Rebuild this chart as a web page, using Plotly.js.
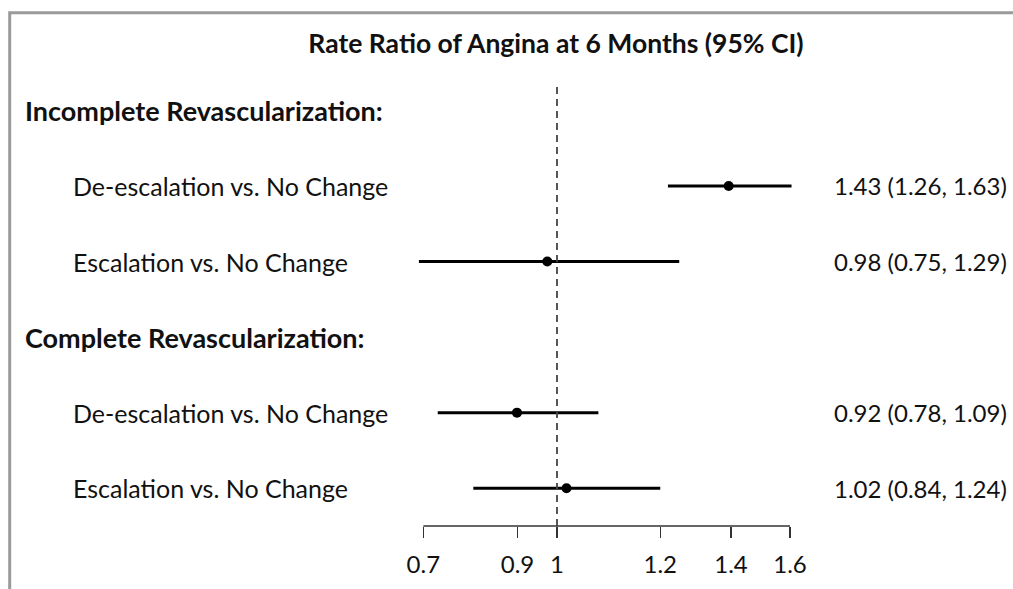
<!DOCTYPE html>
<html>
<head>
<meta charset="utf-8">
<script src="https://cdn.plot.ly/plotly-3.0.1.min.js"></script>
<style>
  html, body { margin: 0; padding: 0; background: #fff; }
  #chart { width: 1013px; height: 589px; }
</style>
</head>
<body>
<div id="chart"></div>
<script>
// ---- data ----
var groups = ["Incomplete Revascularization:", "Complete Revascularization:"];
var rowGroup = [0, 0, 1, 1];
var comparisons = ["De-escalation vs. No Change", "Escalation vs. No Change",
                   "De-escalation vs. No Change", "Escalation vs. No Change"];
var rateRatio = [1.43, 0.98, 0.92, 1.02];
var ciLow = [1.26, 0.75, 0.78, 0.84];
var ciHigh = [1.63, 1.29, 1.09, 1.24];
var tickVals = [0.757, 0.921, 1, 1.24, 1.437, 1.625];
var tickText = ["0.7", "0.9", "1", "1.2", "1.4", "1.6"];
var titleText = "Rate Ratio of Angina at 6 Months (95% CI)";

// ---- layout helpers ----
var W = 1013, H = 589;
var FONT = "Lato, 'Open Sans', sans-serif";
function headerRow(g) { return 1 + 3 * g; }
var rowY = [];
var cnt = [0, 0];
for (var i = 0; i < comparisons.length; i++) {
  var g = rowGroup[i];
  rowY.push(2 + 3 * g + cnt[g]);
  cnt[g]++;
}
var errPlus = rateRatio.map(function (v, i) { return ciHigh[i] - v; });
var errMinus = rateRatio.map(function (v, i) { return v - ciLow[i]; });

var trace = {
  type: "scatter",
  mode: "markers",
  x: rateRatio,
  y: rowY,
  marker: { color: "#000", size: 10 },
  error_x: { type: "data", symmetric: false, array: errPlus, arrayminus: errMinus,
             width: 0, thickness: 3, color: "#000" },
  hoverinfo: "skip",
  showlegend: false
};

var annotations = [];
groups.forEach(function (name, g) {
  annotations.push({ xref: "paper", yref: "y", x: 23 / W, y: headerRow(g), text: "<b>" + name + "</b>",
    showarrow: false, xanchor: "left", yanchor: "middle", font: { family: FONT, size: 27, color: "#111" } });
});
comparisons.forEach(function (name, i) {
  annotations.push({ xref: "paper", yref: "y", x: 71 / W, y: rowY[i], text: name,
    showarrow: false, xanchor: "left", yanchor: "middle", font: { family: FONT, size: 25, color: "#111" } });
  annotations.push({ xref: "paper", yref: "y", x: 1009 / W, y: rowY[i],
    text: rateRatio[i].toFixed(2) + " (" + ciLow[i].toFixed(2) + ", " + ciHigh[i].toFixed(2) + ")",
    showarrow: false, xanchor: "right", yanchor: "middle", font: { family: FONT, size: 24, color: "#111" } });
});

var pxPerDec = 480 * Math.LN10;
var x0px = 557;
var layout = {
  width: W, height: H,
  margin: { l: 0, r: 0, t: 0, b: 63, pad: 0 },
  paper_bgcolor: "#fff", plot_bgcolor: "#fff",
  title: { text: "<b>" + titleText + "</b>", x: 556 / W, xanchor: "center", xref: "paper",
           y: 1 - 44 / H, yanchor: "middle", yref: "container",
           font: { family: FONT, size: 26.5, color: "#111" } },
  xaxis: {
    type: "log",
    range: [(0 - x0px) / pxPerDec, (W - x0px) / pxPerDec],
    tickvals: tickVals, ticktext: tickText,
    ticks: "outside", ticklen: 11, tickwidth: 1.5, tickcolor: "#333",
    showline: false, showgrid: false, zeroline: false,
    tickfont: { family: FONT, size: 24, color: "#111" },
    ticklabelstandoff: 6,
    fixedrange: true
  },
  yaxis: {
    range: [6.5, 1 - 110.5 / 75.6],
    showticklabels: false, ticks: "", showline: false, showgrid: false, zeroline: false,
    fixedrange: true
  },
  shapes: [
    { type: "line", xref: "x", yref: "paper", x0: 1, x1: 1, y0: 0, y1: (526 - 83) / 526,
      line: { color: "#444", width: 1.8, dash: "7px,5px" } },
    { type: "line", xref: "x", yref: "paper", x0: tickVals[0], x1: tickVals[tickVals.length - 1], y0: 0, y1: 0,
      line: { color: "#333", width: 1.5 } },
    { type: "rect", xref: "paper", yref: "paper", x0: 9.7 / W, x1: 1.05, y0: -0.3, y1: (526 - 12.8) / 526,
      line: { color: "#9a9a9a", width: 3 }, fillcolor: "rgba(0,0,0,0)" }
  ],
  annotations: annotations
};

Plotly.newPlot("chart", [trace], layout, { staticPlot: true, displayModeBar: false });
</script>
</body>
</html>
